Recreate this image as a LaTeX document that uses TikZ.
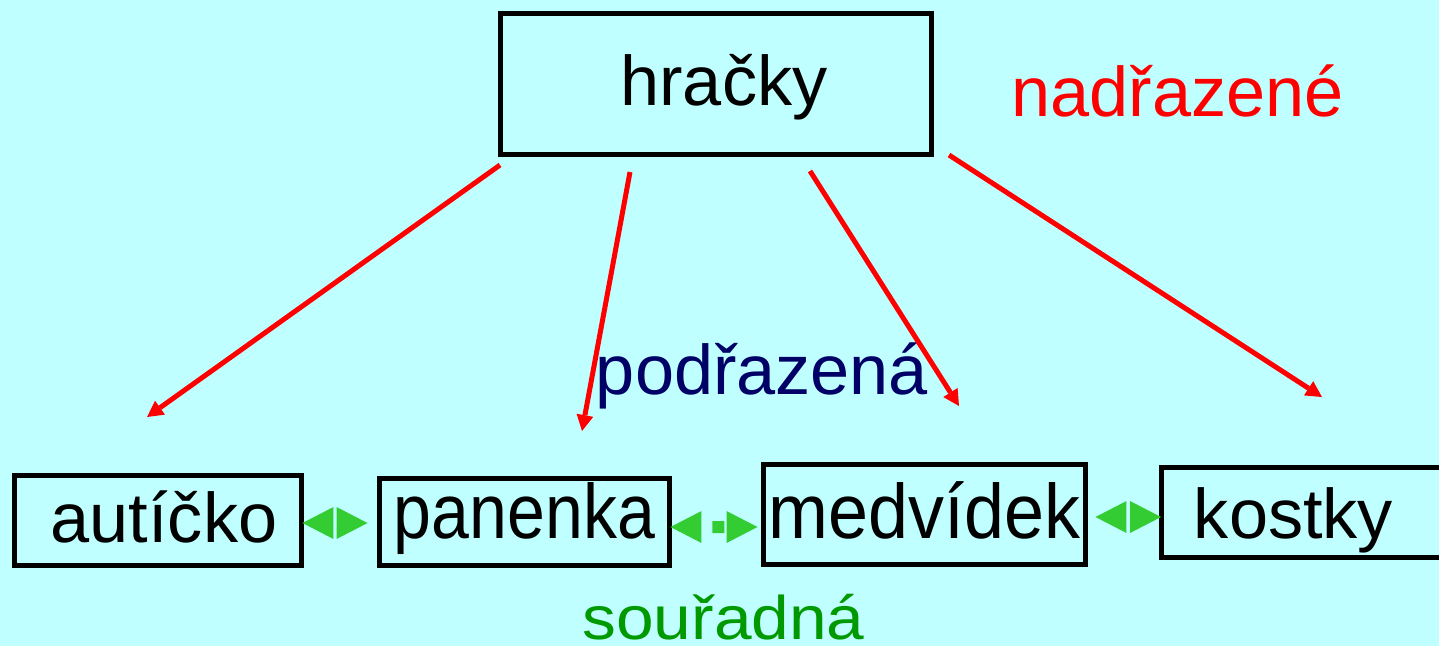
\documentclass[tikz,border=0pt]{standalone}
\usepackage{fontspec}
\setmainfont{Liberation Sans}
\usepackage{graphicx}
\usetikzlibrary{arrows.meta}
\definecolor{bgc}{HTML}{C0FFFF}
\definecolor{arrred}{HTML}{FF0000}
\definecolor{arrgreen}{HTML}{33CC33}
\definecolor{txtnavy}{HTML}{000066}
\definecolor{txtgreen}{HTML}{009900}
\begin{document}
\begin{tikzpicture}[x=0.02cm,y=-0.02cm,
  box/.style={draw=black, line width=0.1cm, inner sep=0pt, font=\fontsize{40pt}{48pt}\selectfont},
  freetext/.style={inner sep=0pt, font=\fontsize{40pt}{48pt}\selectfont},
  redarrow/.style={draw=arrred, line width=0.1cm, -{Triangle[length=0.32cm,width=0.34cm,line width=0pt]}},
  greenarrow/.style={draw=arrgreen, line width=0.24cm,
    {Triangle[length=0.62cm,width=0.64cm,line width=0pt]}-{Triangle[length=0.62cm,width=0.64cm,line width=0pt]}}
]
\useasboundingbox (0,0) rectangle (1439,646);
\fill[bgc] (0,0) rectangle (1439,646);

% boxes
\node[box, minimum width=8.62cm, minimum height=2.82cm, text height=1.1cm, text depth=0.22cm] (hr) at (716,84) {\kern0.32cm hračky};
\node[box, minimum width=5.74cm, minimum height=1.8cm, text height=1.1cm, text depth=0.22cm] (aut) at (158,520.5) {\kern0.24cm autíčko};
\node[box, minimum width=5.8cm, minimum height=1.74cm, text height=1.0cm, text depth=0.36cm, font=\fontsize{44pt}{52pt}\selectfont] (pan) at (524.5,522) {\scalebox{0.88}[1]{panenka}};
\node[box, minimum width=6.44cm, minimum height=2cm, text height=1.1cm, text depth=0.16cm, font=\fontsize{44pt}{52pt}\selectfont] (med) at (924.5,514.5) {\scalebox{0.93}[1]{medvídek}};
\node[box, minimum width=5.78cm, minimum height=1.8cm, text height=1.2cm, text depth=0.18cm] (kos) at (1305.5,512.5) {kostky\kern0.48cm};

% free texts
\node[freetext, text=arrred, anchor=base] (nad) at (1177.5,116) {nadřazené};
\node[freetext, text=txtnavy, anchor=base] (pod) at (762,394) {podřazená};
\node[freetext, text=txtgreen, anchor=base, font=\fontsize{35pt}{42pt}\selectfont] (sou) at (723.5,639) {\scalebox{1.1}[1]{souřadná}};

% red arrows (free ends)
\coordinate (s1) at (500,165); \coordinate (e1) at (147,417);
\coordinate (s2) at (630,172); \coordinate (e2) at (582,431);
\coordinate (s3) at (810,171); \coordinate (e3) at (959,406);
\coordinate (s4) at (949,155); \coordinate (e4) at (1322,397);
\draw[redarrow] (s1) -- (e1);
\draw[redarrow] (s2) -- (e2);
\draw[redarrow] (s3) -- (e3);
\draw[redarrow] (s4) -- (e4);

% green double arrows
\draw[greenarrow, dash pattern=on 0pt off 200pt] ([xshift=-0.03cm,yshift=-0.05cm]aut.east) -- ([xshift=-0.19cm,yshift=-0.02cm]pan.west);
\draw[greenarrow, dash pattern=on 0pt off 0.22cm on 0.24cm off 200pt] ([xshift=-0.03cm,yshift=-0.1cm]pan.east) -- ([xshift=-0.07cm,yshift=-0.25cm]med.west);
\draw[greenarrow, dash pattern=on 0pt off 200pt] ([xshift=0.15cm,yshift=-0.05cm]med.east) -- ([xshift=0.05cm,yshift=-0.09cm]kos.west);
\end{tikzpicture}
\end{document}
